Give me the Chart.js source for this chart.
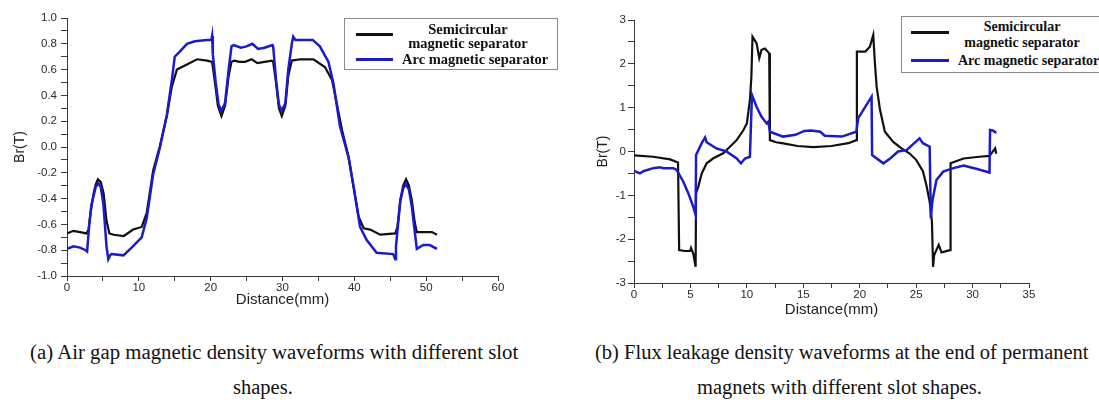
<!DOCTYPE html>
<html>
<head>
<meta charset="utf-8">
<script src="https://cdn.jsdelivr.net/npm/chart.js@4.4.0/dist/chart.umd.min.js"></script>
<style>
  html, body { margin: 0; padding: 0; background: #fff; }
  body { width: 1099px; height: 407px; position: relative; overflow: hidden; }
  .panel { position: absolute; top: 0; height: 320px; }
  .legend { position: absolute; box-sizing: border-box; border: 1px solid #8a8a8a; background: #fff;
            font-family: 'Liberation Serif', 'Times New Roman', serif; font-weight: bold; font-size: 14px; color: #111; }
  .legend .swatch { position: absolute; height: 3px; }
  .legend .txt { position: absolute; white-space: nowrap; line-height: 16px; }
  .legend .center { width: 200px; text-align: center; }
  .caption { position: absolute; font-family: 'Liberation Serif', 'Times New Roman', serif; font-size: 20.5px;
             color: #111; white-space: nowrap; line-height: 24px; }
</style>
</head>
<body>
<div class="panel" style="left:0; width:550px;"><canvas id="airChart"></canvas></div>
<div class="panel" style="left:550px; width:549px;"><canvas id="leakChart"></canvas></div>

<div class="legend" style="left:344px; top:18px; width:214px; height:52px; font-size:14.5px;">
  <div class="swatch" style="left:11px; top:14px; width:37px; background:#111;"></div>
  <div class="swatch" style="left:11px; top:39px; width:37px; background:#1b1bc9;"></div>
  <div class="txt center" style="left:23px; top:2px;">Semicircular</div>
  <div class="txt center" style="left:23px; top:16px;">magnetic separator</div>
  <div class="txt" style="left:57px; top:32px;">Arc magnetic separator</div>
</div>

<div class="legend" style="left:901px; top:16px; width:214px; height:57px;">
  <div class="swatch" style="left:9px; top:14px; width:38px; background:#111;"></div>
  <div class="swatch" style="left:9px; top:42px; width:38px; background:#1b1bc9;"></div>
  <div class="txt center" style="left:20px; top:2px;">Semicircular</div>
  <div class="txt center" style="left:20px; top:18px;">magnetic separator</div>
  <div class="txt" style="left:56px; top:36px;">Arc magnetic separator</div>
</div>

<div class="caption" style="left:30px; top:340px; font-size:20.8px;">(a) Air gap magnetic density waveforms with different slot</div>
<div class="caption" style="left:233px; top:375px;">shapes.</div>
<div class="caption" style="left:595px; top:340px;">(b) Flux leakage density waveforms at the end of permanent</div>
<div class="caption" style="left:697px; top:375px;">magnets with different slot shapes.</div>

<script>
// (a) air gap flux density, Br(T) against distance (mm)
const airDistSemi = [0, 0.9, 1.8, 2.7, 3.0, 3.3, 3.7, 4.0, 4.3, 4.7, 5.1, 5.5, 5.9, 6.5, 7.9, 9.2, 10.4, 11.1, 12.0, 12.9,
  13.9, 14.6, 15.3, 16.0, 16.7, 18.1, 19.5, 20.2, 20.6, 21.0, 21.5, 22.0, 22.5, 22.9, 23.3, 24.0, 24.8, 25.7, 26.5, 27.5,
  28.5, 28.7, 29.1, 29.5, 29.9, 30.4, 30.8, 31.3, 32.5, 34.3, 35.9, 36.9, 38.3, 39.2, 39.9, 40.6, 41.3, 42.2, 43.6, 45.7,
  46.0, 46.4, 46.8, 47.2, 47.6, 48.0, 48.4, 48.7, 49.6, 50.8, 51.5];
const airBrSemi = [-0.67, -0.65, -0.66, -0.67, -0.64, -0.50, -0.36, -0.29, -0.25, -0.27, -0.36, -0.57, -0.67, -0.68, -0.69, -0.64, -0.62, -0.51, -0.18, 0.00,
  0.24, 0.47, 0.60, 0.62, 0.64, 0.68, 0.67, 0.66, 0.50, 0.32, 0.24, 0.32, 0.55, 0.66, 0.67, 0.66, 0.66, 0.68, 0.65, 0.66,
  0.67, 0.66, 0.50, 0.30, 0.24, 0.32, 0.55, 0.67, 0.68, 0.68, 0.62, 0.52, 0.13, -0.08, -0.31, -0.54, -0.63, -0.64, -0.68, -0.67,
  -0.62, -0.41, -0.30, -0.25, -0.30, -0.41, -0.58, -0.66, -0.66, -0.66, -0.68];

const airDistArc = [0, 0.9, 1.8, 2.6, 2.8, 3.1, 3.4, 3.7, 4.0, 4.36, 4.7, 5.06, 5.5, 5.75, 6.0, 6.2, 7.85, 9.0, 10.4, 11.1,
  12.0, 12.95, 13.9, 14.6, 15.0, 15.7, 16.7, 17.8, 19.5, 20.1, 20.2, 20.3, 20.7, 21.1, 21.5, 22.0, 22.5, 22.9, 23.2, 24.2,
  25.0, 25.8, 26.6, 27.5, 28.6, 28.7, 29.1, 29.5, 29.9, 30.4, 30.8, 31.3, 31.5, 31.8, 34.2, 35.2, 36.4, 37.1, 38.0, 39.2,
  39.9, 40.8, 41.7, 43.1, 45.4, 45.7, 45.8, 46.0, 46.4, 46.8, 47.2, 47.6, 48.0, 48.4, 48.7, 49.6, 50.5, 51.5];
const airBrArc = [-0.79, -0.77, -0.78, -0.80, -0.81, -0.60, -0.45, -0.38, -0.31, -0.28, -0.31, -0.44, -0.77, -0.87, -0.84, -0.83, -0.84, -0.78, -0.70, -0.55,
  -0.21, 0.00, 0.25, 0.52, 0.70, 0.74, 0.80, 0.82, 0.83, 0.83, 0.86, 0.72, 0.50, 0.33, 0.28, 0.34, 0.60, 0.78, 0.79, 0.77,
  0.78, 0.80, 0.76, 0.77, 0.79, 0.78, 0.52, 0.33, 0.28, 0.34, 0.60, 0.80, 0.855, 0.83, 0.83, 0.78, 0.66, 0.49, 0.16, -0.08,
  -0.31, -0.62, -0.72, -0.82, -0.83, -0.87, -0.77, -0.65, -0.42, -0.32, -0.29, -0.33, -0.46, -0.65, -0.79, -0.76, -0.76, -0.79];

// (b) flux leakage at the magnet ends
const leakDistSemi = [0, 1.7, 3.2, 3.9, 4.0, 4.5, 4.96, 5.05, 5.25, 5.46, 5.5, 5.7, 6.0, 6.44, 7.0, 7.9, 8.5, 9.1, 9.7, 10.0,
  10.27, 10.4, 10.5, 10.86, 11.1, 11.3, 11.6, 11.98, 12.04, 12.6, 13.1, 14.5, 15.9, 17.5, 19.0, 19.7, 19.75, 20.5, 20.9, 21.2,
  21.35, 21.5, 21.8, 22.23, 22.97, 23.7, 24.4, 25.0, 25.6, 25.9, 26.2, 26.4, 26.5, 26.6, 27.0, 27.25, 28.0, 28.05, 29.2, 30.6,
  31.5, 32.0, 32.1];
const leakBrSemi = [-0.09, -0.12, -0.18, -0.25, -2.25, -2.27, -2.27, -2.20, -2.33, -2.63, -0.95, -0.80, -0.50, -0.27, -0.16, -0.04, 0.11, 0.26, 0.49, 0.64,
  1.17, 1.70, 2.62, 2.47, 2.13, 2.32, 2.35, 2.24, 0.26, 0.21, 0.19, 0.125, 0.10, 0.125, 0.19, 0.26, 2.28, 2.28, 2.39, 2.66,
  2.00, 1.48, 0.95, 0.45, 0.22, 0.07, -0.04, -0.19, -0.45, -0.76, -1.15, -1.60, -2.63, -2.36, -2.13, -2.30, -2.25, -0.27, -0.16, -0.12,
  -0.10, 0.07, -0.05];

const leakDistArc = [0, 0.53, 0.82, 1.71, 2.3, 2.6, 3.48, 3.78, 4.37, 4.81, 5.25, 5.46, 5.5, 6.0, 6.3, 6.44, 7.3, 8.2, 9.1, 9.48,
  9.83, 10.27, 10.45, 10.86, 11.3, 11.75, 11.9, 12.05, 13.2, 14.3, 15.1, 15.7, 16.5, 16.9, 18.4, 19.7, 19.87, 21.05, 21.1, 22.1,
  22.7, 23.4, 24.15, 25.3, 25.6, 26.2, 26.3, 26.45, 26.8, 27.4, 28.3, 29.2, 30.4, 31.5, 31.55, 31.8, 32.1];
const leakBrArc = [-0.44, -0.50, -0.45, -0.38, -0.36, -0.38, -0.38, -0.42, -0.69, -0.95, -1.26, -1.45, -0.08, 0.19, 0.32, 0.21, 0.07, 0.00, -0.16, -0.27,
  -0.16, -0.12, 1.29, 1.02, 0.79, 0.64, 0.68, 0.45, 0.34, 0.38, 0.47, 0.48, 0.45, 0.36, 0.34, 0.45, 0.76, 1.25, -0.08, -0.27,
  -0.16, 0.00, 0.03, 0.30, 0.19, 0.11, -1.52, -1.11, -0.65, -0.46, -0.38, -0.32, -0.40, -0.48, 0.49, 0.48, 0.42];

const semiColor = '#111111';
const arcColor = '#1b1bc9';
const axisColor = '#3a3a3a';

Chart.defaults.font.family = "'Liberation Sans', Arial, sans-serif";
Chart.defaults.color = '#2a2a2a';

function toPoints(xs, ys) {
    return xs.map((x, i) => ({ x: x, y: ys[i] }));
}

function buildChart(canvasId, semiX, semiY, arcX, arcY, cfg) {
    return new Chart(document.getElementById(canvasId), {
        type: 'line',
        data: {
            datasets: [{
                label: 'Semicircular magnetic separator',
                data: toPoints(semiX, semiY),
                borderColor: semiColor,
                borderWidth: 2.2,
                order: 2
            }, {
                label: 'Arc magnetic separator',
                data: toPoints(arcX, arcY),
                borderColor: arcColor,
                borderWidth: 2.5,
                order: 1
            }]
        },
        options: {
            responsive: true,
            maintainAspectRatio: false,
            animation: false,
            layout: { padding: cfg.padding },
            elements: { point: { radius: 0 }, line: { tension: 0 } },
            plugins: { legend: { display: false }, tooltip: { enabled: false } },
            scales: {
                x: {
                    type: 'linear',
                    min: 0,
                    max: cfg.xMax,
                    border: { color: axisColor, width: 1 },
                    grid: { drawOnChartArea: false, tickLength: 5, color: axisColor },
                    ticks: {
                        stepSize: cfg.xStep / 2,
                        autoSkip: false,
                        maxRotation: 0,
                        padding: 0,
                        font: { size: 11.5 },
                        callback: v => (Math.round(v * 2) % Math.round(cfg.xStep * 2) === 0 ? v : '')
                    },
                    title: { display: true, text: 'Distance(mm)', font: { size: 15 }, color: '#222', padding: { bottom: cfg.xTitlePad } },
                    afterFit: s => { s.height = cfg.xHeight; }
                },
                y: {
                    min: cfg.yMin,
                    max: cfg.yMax,
                    border: { color: axisColor, width: 1 },
                    grid: { drawOnChartArea: false, tickLength: 6, color: axisColor },
                    ticks: {
                        stepSize: cfg.yStep / 2,
                        autoSkip: false,
                        padding: cfg.yTickPad,
                        font: { size: 11.5 },
                        callback: v => (Math.abs(Math.round(v / (cfg.yStep / 2))) % 2 === 0 ? v.toFixed(cfg.yDigits) : '')
                    },
                    title: { display: true, text: 'Br(T)', font: { size: 14 }, color: '#222', padding: { top: cfg.yTitlePad } },
                    afterFit: s => { s.width = cfg.yWidth; }
                }
            }
        }
    });
}

buildChart('airChart', airDistSemi, airBrSemi, airDistArc, airBrArc, {
    padding: { top: 18, right: 52, left: 0, bottom: 0 },
    xMax: 60, xStep: 10, xHeight: 44, xTitlePad: 11,
    yMin: -1, yMax: 1, yStep: 0.2, yDigits: 1, yWidth: 67, yTickPad: 4, yTitlePad: 12
});

buildChart('leakChart', leakDistSemi, leakBrSemi, leakDistArc, leakBrArc, {
    padding: { top: 20, right: 70, left: 0, bottom: 0 },
    xMax: 35, xStep: 5, xHeight: 37, xTitlePad: 1,
    yMin: -3, yMax: 3, yStep: 1, yDigits: 0, yWidth: 84, yTickPad: 2, yTitlePad: 45
});
</script>
</body>
</html>
